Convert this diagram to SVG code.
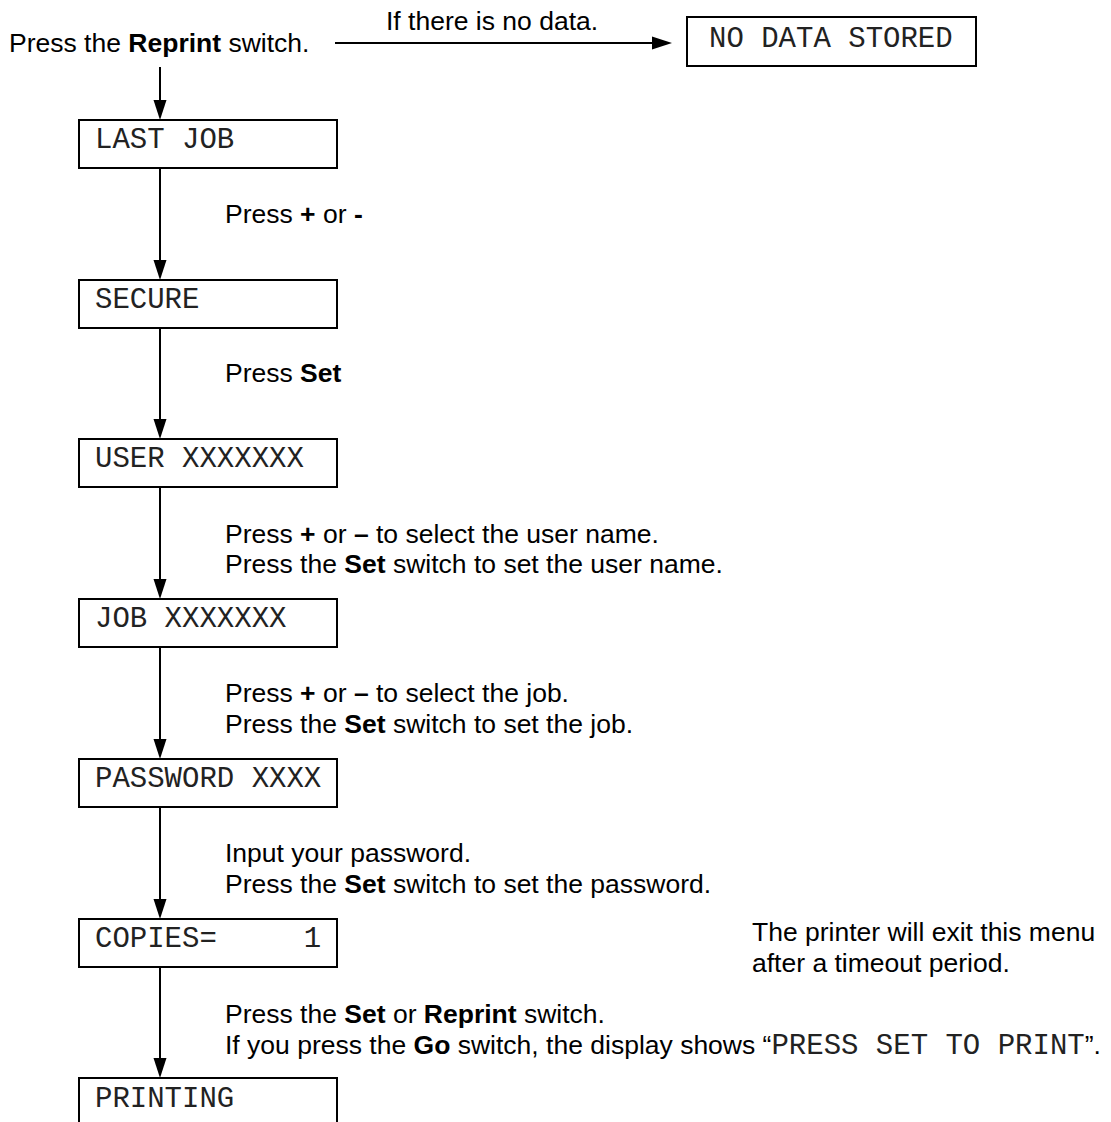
<svg xmlns="http://www.w3.org/2000/svg" width="1111" height="1122" viewBox="0 0 1111 1122">
  <style>
    .box { fill: #fff; stroke: #000; stroke-width: 2; }
    .mono { font-family: "Liberation Mono", "Courier New", monospace; font-size: 29px; fill: #222; white-space: pre; }
    .txt { font-family: "Liberation Sans", Arial, sans-serif; font-size: 26.5px; fill: #000; }
    .b { font-weight: bold; }
    .edge { stroke: #000; stroke-width: 2; fill: none; marker-end: url(#arr); }
  </style>
  <defs>
    <marker id="arr" markerUnits="userSpaceOnUse" markerWidth="20" markerHeight="14" refX="10" refY="7" orient="auto">
      <path d="M0,0.5 L20,7 L0,13.5 z" fill="#000"/>
    </marker>
  </defs>
  <rect width="1111" height="1122" fill="#fff"/>

  <g id="connectors">
    <line class="edge" x1="335" y1="43" x2="662" y2="43"/>
    <line class="edge" x1="160" y1="67" x2="160" y2="110"/>
    <line class="edge" x1="160" y1="168" x2="160" y2="270"/>
    <line class="edge" x1="160" y1="328" x2="160" y2="429"/>
    <line class="edge" x1="160" y1="487" x2="160" y2="589"/>
    <line class="edge" x1="160" y1="647" x2="160" y2="749"/>
    <line class="edge" x1="160" y1="807" x2="160" y2="909"/>
    <line class="edge" x1="160" y1="967" x2="160" y2="1068"/>
  </g>

  <g id="start">
    <text class="txt" x="9" y="52">Press the <tspan class="b">Reprint</tspan> switch.</text>
  </g>
  <g id="label-nodata">
    <text class="txt" x="386" y="30">If there is no data.</text>
  </g>
  <g id="node-nodata">
    <rect class="box" x="687" y="17" width="289" height="49"/>
    <text class="mono" x="709" y="47">NO DATA STORED</text>
  </g>

  <g id="node-lastjob">
    <rect class="box" x="79" y="120" width="258" height="48"/>
    <text class="mono" x="95" y="148">LAST JOB</text>
  </g>
  <g id="label-1">
    <text class="txt" x="225" y="223">Press <tspan class="b">+</tspan> or <tspan class="b">-</tspan></text>
  </g>

  <g id="node-secure">
    <rect class="box" x="79" y="280" width="258" height="48"/>
    <text class="mono" x="95" y="308">SECURE</text>
  </g>
  <g id="label-2">
    <text class="txt" x="225" y="382">Press <tspan class="b">Set</tspan></text>
  </g>

  <g id="node-user">
    <rect class="box" x="79" y="439" width="258" height="48"/>
    <text class="mono" x="95" y="467">USER XXXXXXX</text>
  </g>
  <g id="label-3">
    <text class="txt" x="225" y="543">Press <tspan class="b">+</tspan> or <tspan class="b">–</tspan> to select the user name.</text>
    <text class="txt" x="225" y="573">Press the <tspan class="b">Set</tspan> switch to set the user name.</text>
  </g>

  <g id="node-job">
    <rect class="box" x="79" y="599" width="258" height="48"/>
    <text class="mono" x="95" y="627">JOB XXXXXXX</text>
  </g>
  <g id="label-4">
    <text class="txt" x="225" y="702">Press <tspan class="b">+</tspan> or <tspan class="b">–</tspan> to select the job.</text>
    <text class="txt" x="225" y="733">Press the <tspan class="b">Set</tspan> switch to set the job.</text>
  </g>

  <g id="node-password">
    <rect class="box" x="79" y="759" width="258" height="48"/>
    <text class="mono" x="95" y="787">PASSWORD XXXX</text>
  </g>
  <g id="label-5">
    <text class="txt" x="225" y="862">Input your password.</text>
    <text class="txt" x="225" y="893">Press the <tspan class="b">Set</tspan> switch to set the password.</text>
  </g>

  <g id="node-copies">
    <rect class="box" x="79" y="919" width="258" height="48"/>
    <text class="mono" x="95" y="947">COPIES=     1</text>
  </g>
  <g id="note-timeout">
    <text class="txt" x="752" y="941">The printer will exit this menu</text>
    <text class="txt" x="752" y="972">after a timeout period.</text>
  </g>
  <g id="label-6">
    <text class="txt" x="225" y="1023">Press the <tspan class="b">Set</tspan> or <tspan class="b">Reprint</tspan> switch.</text>
    <text class="txt" x="225" y="1054">If you press the <tspan class="b">Go</tspan> switch, the display shows “<tspan class="mono">PRESS SET TO PRINT</tspan>”.</text>
  </g>

  <g id="node-printing">
    <path class="box" d="M79,1130 V1078 H337 V1130"/>
    <text class="mono" x="95" y="1107">PRINTING</text>
  </g>
</svg>
